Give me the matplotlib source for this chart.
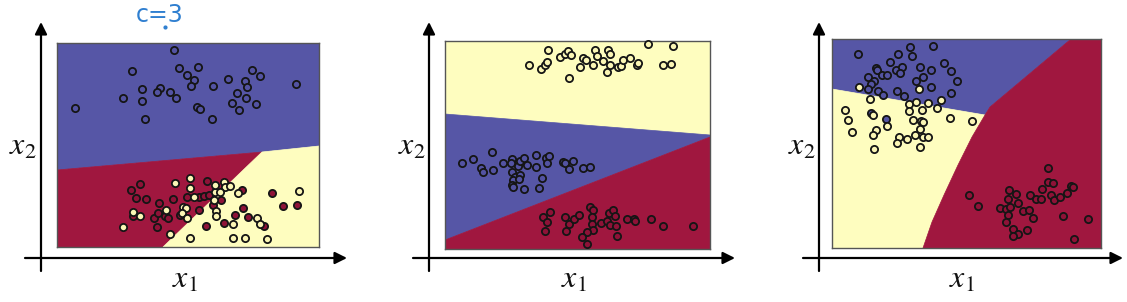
import matplotlib
matplotlib.use("Agg")
import matplotlib.pyplot as plt
from matplotlib.patches import Polygon

plt.rcParams['mathtext.fontset'] = 'stix'

W, H = 1127, 302
DPI = 100

# Colours (Spectral-like)
RED = "#a0173f"
BLUE = "#5656a6"
YEL = "#fefdbf"
PT_RED = "#8e1237"
PT_BLUE = "#5353a2"
PT_YEL = "#fbf6b5"

# ---------------- Panel 1 (x1, x2) ----------------
p1_box = (57, 319, 247, 43)   # x-left, x-right, x2-bottom, x2-top
p1_regions = {
    "blue": [(57, 43), (319, 43), (319, 146), (262, 152), (57, 170)],
    "red": [(57, 170), (262, 152), (163, 247), (57, 247)],
    "yellow": [(262, 152), (319, 146), (319, 247), (163, 247)],
}
p1_blue_x = [174, 132, 179, 198, 187, 194, 191, 213, 228, 252, 260, 245, 247, 237, 246,
             232, 239, 256, 296, 142, 160, 157, 170, 176, 123, 142, 197, 200, 145, 212, 75]
p1_blue_y = [50, 71, 68, 67, 75, 80, 86, 86, 79, 70, 76, 81, 87, 93, 98,
             103, 110, 104, 84, 89, 88, 92, 92, 98, 98, 101, 107, 109, 119, 119, 108]
p1_red_x = [140, 131, 136, 146, 159, 173, 187, 207, 133, 154, 158, 165, 168, 180, 157,
            199, 204, 209, 199, 221, 213, 242, 243, 235, 248, 224, 206, 264, 272, 283, 297]
p1_red_y = [184, 190, 198, 199, 203, 199, 197, 181, 216, 218, 213, 216, 218, 215, 227,
            197, 196, 195, 210, 200, 205, 190, 208, 215, 217, 223, 226, 226, 193, 206, 205]
p1_yel_x = [133, 140, 123, 175, 190, 190, 166, 183, 186, 182, 187, 194, 215, 215, 224,
            225, 230, 220, 214, 216, 216, 238, 257, 233, 260, 299, 190, 233, 245, 267, 170]
p1_yel_y = [212, 216, 227, 183, 178, 188, 210, 207, 208, 213, 218, 197, 192, 185, 182,
            187, 186, 192, 200, 211, 216, 193, 218, 224, 224, 191, 238, 238, 238, 239, 234]

# ---------------- Panel 2 ----------------
p2_box = (445, 710, 249, 41)
p2_regions = {
    "yellow": [(445, 41), (710, 41), (710, 135), (445, 114)],
    "blue": [(445, 114), (710, 135), (710, 137), (445, 240)],
    "red": [(445, 240), (710, 137), (710, 249), (445, 249)],
}
p2_yel_x = [529, 541, 545, 547, 548, 560, 565, 568, 571, 569, 580, 583, 586, 593, 595, 597,
            603, 608, 610, 610, 607, 618, 621, 623, 630, 637, 638, 648, 663, 671, 673]
p2_yel_y = [65, 69, 65, 62, 50, 57, 54, 51, 55, 78, 67, 58, 60, 65, 50, 56,
            61, 50, 54, 65, 72, 67, 66, 60, 58, 65, 63, 44, 65, 64, 46]
p2_blue_x = [462, 473, 481, 483, 492, 493, 503, 512, 511, 518, 520, 524, 527, 512, 515, 520,
             513, 519, 512, 513, 524, 536, 536, 546, 549, 547, 542, 539, 563, 565, 573, 569,
             583, 590]
p2_blue_y = [163, 159, 168, 172, 152, 170, 163, 159, 163, 166, 161, 158, 165, 172, 177, 175,
             180, 179, 185, 187, 189, 155, 167, 158, 156, 163, 178, 188, 162, 163, 161, 169,
             168, 167]
p2_red_x = [543, 550, 547, 545, 565, 566, 569, 574, 579, 590, 593, 592, 592, 593, 587, 582,
            587, 601, 607, 610, 609, 613, 615, 616, 617, 627, 634, 635, 651, 663, 693]
p2_red_y = [217, 212, 222, 231, 217, 231, 224, 219, 215, 207, 210, 217, 224, 230, 232, 237,
            244, 223, 221, 225, 213, 210, 216, 226, 236, 219, 219, 221, 219, 226, 226]

# ---------------- Panel 3 ----------------
p3_box = (832, 1101, 248, 39)
p3_regions = {
    "blue": [(832, 39), (1071, 39), (990, 107), (985, 115), (832, 89)],
    "yellow": [(832, 89), (985, 115), (972, 137), (958, 165), (944, 195), (932, 222),
               (923, 248), (832, 248)],
    "red": [(1071, 39), (1101, 39), (1101, 248), (923, 248), (932, 222), (944, 195),
            (958, 165), (972, 137), (985, 115), (990, 107)],
}
p3_blue_x = [858, 898, 910, 912, 933, 890, 876, 877, 896, 902, 900, 882, 887, 920, 931, 944,
             951, 957, 868, 874, 871, 916, 923, 868, 878, 883, 897, 904, 931, 951, 871, 886]
p3_blue_y = [54, 54, 47, 56, 46, 62, 68, 70, 70, 67, 73, 75, 75, 67, 70, 63,
             71, 81, 77, 81, 84, 81, 77, 89, 91, 95, 91, 96, 87, 93, 113, 119]
p3_yel_x = [859, 919, 870, 909, 916, 928, 941, 937, 909, 922, 845, 848, 873, 887, 913, 921,
            923, 920, 950, 972, 852, 876, 873, 915, 923, 928, 899, 907, 897, 874, 920]
p3_yel_y = [87, 89, 99, 104, 102, 103, 100, 108, 111, 110, 110, 120, 115, 126, 120, 121,
            122, 129, 118, 121, 132, 130, 135, 135, 137, 137, 137, 139, 143, 149, 147]
p3_red_x = [969, 978, 1048, 1048, 1053, 1042, 1009, 1016, 1030, 1036, 1041, 1051, 1054, 1060,
            1067, 1071, 1073, 1008, 1018, 1000, 1006, 1010, 1023, 1029, 1008, 1033, 1006, 1063,
            1088, 1013, 1027, 1018, 1013, 1074]
p3_red_y = [195, 206, 168, 182, 183, 189, 190, 194, 195, 199, 199, 195, 200, 197,
            193, 186, 187, 199, 203, 208, 209, 207, 211, 210, 215, 218, 222, 216,
            219, 229, 230, 234, 236, 239]

region_colors = {"blue": BLUE, "red": RED, "yellow": YEL}

fig = plt.figure(figsize=(W / DPI, H / DPI), dpi=DPI)
fig.patch.set_facecolor("white")


def make_panel(box, regions, series):
    xl, xr, yb, yt = box
    ax = fig.add_axes([xl / W, 1 - yb / H, (xr - xl) / W, (yb - yt) / H])
    ax.set_xlim(xl, xr)
    ax.set_ylim(yb, yt)
    for name, pts in regions.items():
        ax.add_patch(Polygon(pts, closed=True, facecolor=region_colors[name],
                             edgecolor=region_colors[name], lw=0.5, zorder=1))
    for xs, ys, fc in series:
        ax.scatter(xs, ys, s=27, facecolor=fc, edgecolor="#151515", linewidths=1.3,
                   zorder=3, clip_on=False)
    ax.set_xticks([])
    ax.set_yticks([])
    for sp in ax.spines.values():
        sp.set_color("#555555")
        sp.set_linewidth(1.0)
    return ax


make_panel(p1_box, p1_regions, [(p1_blue_x, p1_blue_y, PT_BLUE),
                                (p1_red_x, p1_red_y, PT_RED),
                                (p1_yel_x, p1_yel_y, PT_YEL)])
make_panel(p2_box, p2_regions, [(p2_yel_x, p2_yel_y, PT_YEL),
                                (p2_blue_x, p2_blue_y, PT_BLUE),
                                (p2_red_x, p2_red_y, PT_RED)])
make_panel(p3_box, p3_regions, [(p3_blue_x, p3_blue_y, PT_BLUE),
                                (p3_yel_x, p3_yel_y, PT_YEL),
                                (p3_red_x, p3_red_y, PT_RED)])

# Overlay for arrows and labels (pixel coordinates)
ov = fig.add_axes([0, 0, 1, 1], zorder=5)
ov.set_xlim(0, W)
ov.set_ylim(H, 0)
ov.axis("off")
ov.patch.set_alpha(0)

axes_layout = [
    # vx, hy, hx_start, hx_end, x1 label x, x2 label x
    (41, 258, 25, 347, 185, 23),
    (429, 258, 413, 735, 574, 412),
    (819, 258, 803, 1123, 962, 802),
]
for vx, hy, hx0, hx1, lx1, lx2 in axes_layout:
    ap = dict(arrowstyle="-|>", lw=1.6, color="black", mutation_scale=18,
              shrinkA=0, shrinkB=0)
    ov.annotate("", xy=(vx, 22), xytext=(vx, 271), arrowprops=ap)
    ov.annotate("", xy=(hx1, hy), xytext=(hx0, hy), arrowprops=ap)
    ov.text(lx1, 279, r"$x_1$", fontsize=23, ha="center", va="center", color="#111111")
    ov.text(lx2, 146, r"$x_2$", fontsize=23, ha="center", va="center", color="#111111")

# handwritten note with its small pen dot
ov.text(160, 15, "c=3", fontsize=17, ha="center", va="center", color="#2f7fd0",
        family="DejaVu Sans")
ov.plot([165], [27], marker="o", markersize=2, color="#2f7fd0")

fig.savefig("out.png", dpi=DPI)
